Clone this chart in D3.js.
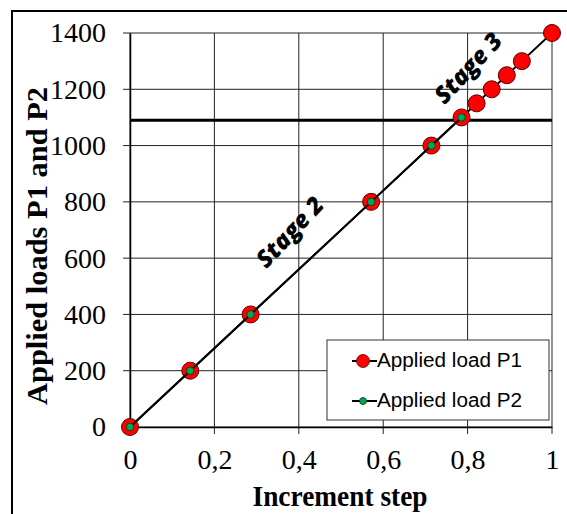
<!DOCTYPE html>
<html>
<head>
<meta charset="utf-8">
<title></title>
<script src="https://d3js.org/d3.v7.min.js"></script>
<style>
  body { margin: 0; background: #fff; }
</style>
</head>
<body>
<div id="my_dataviz"></div>
<script>
// data
var stepP1 = [0, 1/7, 2/7, 4/7, 5/7, 5.5/7, 5.75/7, 6/7, 6.25/7, 6.5/7, 1];
var loadP1 = [0, 200, 400, 800, 1000, 1100, 1150, 1200, 1250, 1300, 1400];
var stepP2 = [0, 1/7, 2/7, 4/7, 5/7, 5.5/7];
var loadP2 = [0, 200, 400, 800, 1000, 1100];
var limitLoad = 1090;
var xTicks = [0, 0.2, 0.4, 0.6, 0.8, 1];
var yTicks = [0, 200, 400, 600, 800, 1000, 1200, 1400];
var seriesNames = ["Applied load P1", "Applied load P2"];
var stageLabels = [{text: "Stage 2", step: 0.379, load: 693}, {text: "Stage 3", step: 0.801, load: 1276}];

var W = 567, H = 514;
var margin = {top: 33, right: 15, bottom: 87, left: 130},
    width = W - margin.left - margin.right,
    height = H - margin.top - margin.bottom;
var serif = "'Liberation Serif', 'Times New Roman', serif";

var root = d3.select("#my_dataviz")
  .append("svg")
    .attr("width", W)
    .attr("height", H);

// outer frame
root.append("rect")
    .attr("x", 12).attr("y", 11)
    .attr("width", 700).attr("height", 700)
    .attr("fill", "none")
    .attr("stroke", "#000")
    .attr("stroke-width", 2);

var svg = root.append("g")
    .attr("transform", "translate(" + margin.left + "," + margin.top + ")");

var x = d3.scaleLinear().domain([0, 1]).range([0, width]);
var y = d3.scaleLinear().domain([0, 1400]).range([height, 0]);

// grid
svg.append("g")
  .selectAll("line")
  .data(yTicks)
  .enter().append("line")
    .attr("x1", -7).attr("x2", width)
    .attr("y1", function(d) { return y(d); })
    .attr("y2", function(d) { return y(d); })
    .attr("stroke", "#222").attr("stroke-width", 1);
svg.append("g")
  .selectAll("line")
  .data(xTicks)
  .enter().append("line")
    .attr("y1", 0).attr("y2", height + 7)
    .attr("x1", function(d) { return x(d); })
    .attr("x2", function(d) { return x(d); })
    .attr("stroke", "#222").attr("stroke-width", 1);

// axes
var xAxis = svg.append("g")
    .attr("transform", "translate(0," + height + ")")
    .call(d3.axisBottom(x).tickValues(xTicks).tickSize(0).tickPadding(22)
      .tickFormat(function(d) { return d === 0 || d === 1 ? d : d3.format(".1f")(d).replace(".", ","); }));
var yAxis = svg.append("g")
    .call(d3.axisLeft(y).tickValues(yTicks).tickSize(0).tickPadding(24).tickFormat(d3.format("d")));
[xAxis, yAxis].forEach(function(a) {
  a.select(".domain").attr("stroke", "#000").attr("stroke-width", 1.5);
  a.selectAll("text")
    .attr("font-family", serif)
    .attr("font-size", 28)
    .attr("fill", "#000");
});

// limit line
svg.append("line")
    .attr("x1", x(0)).attr("x2", x(1))
    .attr("y1", y(limitLoad)).attr("y2", y(limitLoad))
    .attr("stroke", "#000").attr("stroke-width", 3);

// lines
var p1 = stepP1.map(function(d, i) { return [d, loadP1[i]]; });
var p2 = stepP2.map(function(d, i) { return [d, loadP2[i]]; });
var line = d3.line()
    .x(function(d) { return x(d[0]); })
    .y(function(d) { return y(d[1]); });

svg.append("path").datum(p1)
    .attr("d", line).attr("fill", "none")
    .attr("stroke", "#000").attr("stroke-width", 2);
svg.append("g").selectAll("circle")
  .data(p1).enter().append("circle")
    .attr("cx", function(d) { return x(d[0]); })
    .attr("cy", function(d) { return y(d[1]); })
    .attr("r", 8.5)
    .attr("fill", "#ff0000")
    .attr("stroke", "#5a0000").attr("stroke-width", 1);

svg.append("path").datum(p2)
    .attr("d", line).attr("fill", "none")
    .attr("stroke", "#000").attr("stroke-width", 2);
svg.append("g").selectAll("circle")
  .data(p2).enter().append("circle")
    .attr("cx", function(d) { return x(d[0]); })
    .attr("cy", function(d) { return y(d[1]); })
    .attr("r", 3.8)
    .attr("fill", "#00a650")
    .attr("stroke", "#003a1c").attr("stroke-width", 0.8);

// stage labels
stageLabels.forEach(function(s) {
  svg.append("text")
    .attr("transform", "translate(" + x(s.step) + "," + y(s.load) + ") rotate(-47)")
    .attr("text-anchor", "middle")
    .attr("dy", "0.35em")
    .attr("font-family", "'Open Sans', 'DejaVu Sans', sans-serif")
    .attr("font-weight", "800")
    .attr("font-style", "italic")
    .attr("font-size", 24)
    .text(s.text);
});

// axis titles
root.append("text")
    .attr("x", 340).attr("y", 506)
    .attr("text-anchor", "middle")
    .attr("font-family", serif)
    .attr("font-weight", "bold")
    .attr("font-size", 29)
    .attr("textLength", 175)
    .attr("lengthAdjust", "spacingAndGlyphs")
    .text("Increment step");
root.append("text")
    .attr("transform", "translate(47,246) rotate(-90)")
    .attr("text-anchor", "middle")
    .attr("font-family", serif)
    .attr("font-weight", "bold")
    .attr("font-size", 30)
    .attr("textLength", 318)
    .attr("lengthAdjust", "spacingAndGlyphs")
    .text("Applied loads P1 and P2");

// legend
var lg = root.append("g").attr("transform", "translate(327,340)");
lg.append("rect")
    .attr("width", 222).attr("height", 80)
    .attr("fill", "#fff").attr("stroke", "#333").attr("stroke-width", 1);
seriesNames.forEach(function(name, i) {
  var cy = 21 + i * 40;
  lg.append("line")
    .attr("x1", 25).attr("x2", 50).attr("y1", cy).attr("y2", cy)
    .attr("stroke", "#000").attr("stroke-width", 2);
  lg.append("circle")
    .attr("cx", 36).attr("cy", cy)
    .attr("r", i === 0 ? 6.5 : 3.5)
    .attr("fill", i === 0 ? "#ff0000" : "#00a650")
    .attr("stroke", i === 0 ? "#5a0000" : "#003a1c").attr("stroke-width", 0.8);
  lg.append("text")
    .attr("x", 50).attr("y", cy + 6)
    .attr("font-family", "'Liberation Sans', Arial, sans-serif")
    .attr("font-size", 20)
    .attr("textLength", 145)
    .attr("lengthAdjust", "spacingAndGlyphs")
    .text(name);
});
</script>
</body>
</html>
